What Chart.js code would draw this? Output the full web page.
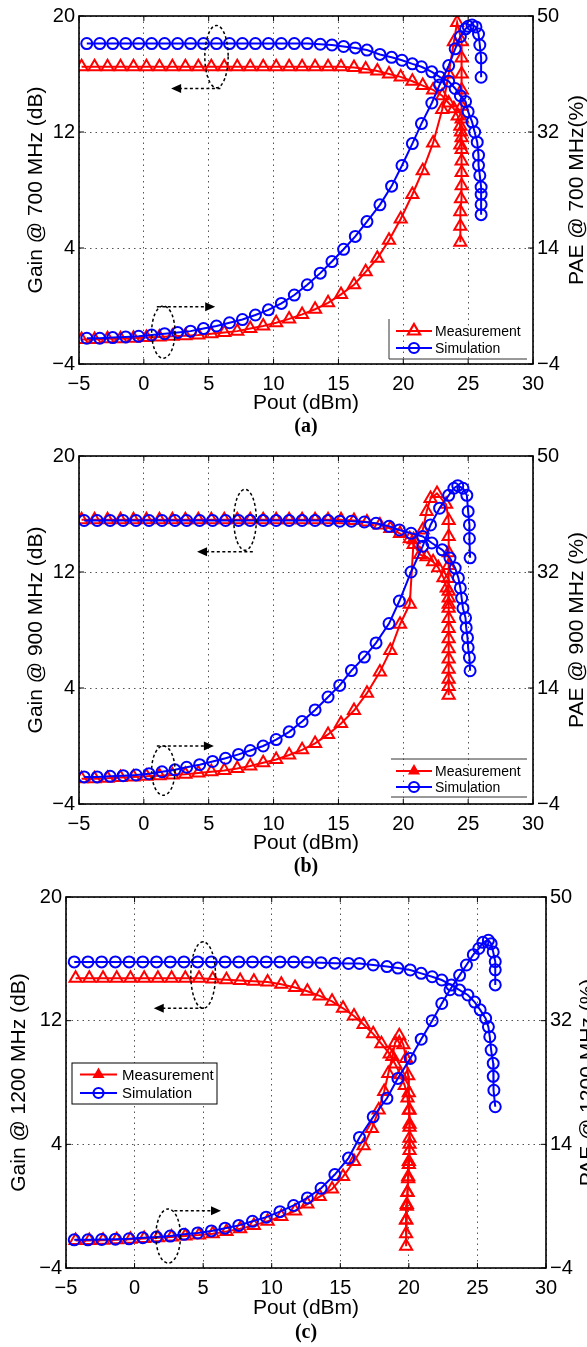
<!DOCTYPE html>
<html><head><meta charset="utf-8">
<script src="https://cdn.jsdelivr.net/npm/chart.js@4.4.1/dist/chart.umd.min.js"></script>
<style>
html,body{margin:0;padding:0;background:#fff;}
body{width:587px;height:1347px;position:relative;overflow:hidden;}
canvas{position:absolute;left:0;}
</style></head><body>
<canvas id="ca" width="587" height="440" style="top:0px"></canvas>
<canvas id="cb" width="587" height="440" style="top:440px"></canvas>
<canvas id="cc" width="587" height="467" style="top:880px"></canvas>
<script>
// ---------- tick labels / text ----------
const xTicks = [-5,0,5,10,15,20,25,30];
const gainTicks = [-4,4,12,20];
const paeTicks = [-4,14,32,50];
const legendLabels = ['Measurement','Simulation'];

// ---------- panel (a) 700 MHz ----------
const simGainX_a = [-4.4,-3.4,-2.4,-1.4,-0.4,0.6,1.6,2.6,3.6,4.6,5.6,6.6,7.6,8.6,9.6,10.6,11.6,12.6,13.6,14.5,15.4,16.3,17.2,18.2,19.1,19.9,20.7,21.4,22.2,22.8,23.5,24.0,24.4,24.8,25.0,25.3,25.5,25.7,25.8,25.8,25.9,26.0,26.0,26.0,26.0];
const simGain_a = [18.1,18.1,18.1,18.1,18.1,18.1,18.1,18.1,18.1,18.1,18.1,18.1,18.1,18.1,18.1,18.1,18.1,18.1,18.05,18.0,17.9,17.8,17.65,17.35,17.15,16.95,16.7,16.5,16.15,15.8,15.5,15.0,14.5,14.1,13.4,12.7,12.0,11.3,10.4,9.7,9.0,8.2,7.7,7.0,6.3];
const simPaeX_a = [-4.4,-3.4,-2.4,-1.4,-0.4,0.6,1.6,2.6,3.6,4.6,5.6,6.6,7.6,8.6,9.6,10.6,11.6,12.6,13.6,14.5,15.4,16.3,17.2,18.2,19.1,19.9,20.7,21.4,22.2,22.8,23.5,24.0,24.4,24.8,25.0,25.3,25.6,25.8,25.9,26.0,26.0];
const simPae_a = [0.0,0.0,0.1,0.2,0.3,0.5,0.7,0.9,1.1,1.5,1.9,2.4,2.9,3.6,4.4,5.4,6.7,8.3,10.1,11.9,13.8,15.8,18.1,20.7,23.6,26.8,30.2,33.3,36.5,39.3,42.3,44.9,46.8,48.0,48.4,48.6,48.3,47.2,45.5,43.5,40.5];
const measGainX_a = [-4.8,-3.8,-2.8,-1.8,-0.8,0.2,1.2,2.2,3.2,4.2,5.2,6.2,7.2,8.2,9.2,10.2,11.2,12.2,13.2,14.2,15.2,16.2,17.1,18.0,18.9,19.8,20.7,21.5,22.3,23.0,23.5,23.9,24.2,24.4,24.5,24.5,24.5,24.5,24.5,24.45,24.4,24.4,24.4];
const measGain_a = [16.5,16.5,16.5,16.5,16.5,16.5,16.5,16.5,16.5,16.5,16.5,16.5,16.5,16.5,16.5,16.5,16.5,16.5,16.5,16.5,16.5,16.45,16.35,16.2,16.0,15.8,15.5,15.2,14.9,14.5,14.0,13.6,13.1,12.4,11.6,10.8,10.0,9.2,8.3,7.4,6.5,5.5,4.4];
const measPaeX_a = [-4.8,-3.8,-2.8,-1.8,-0.8,0.2,1.2,2.2,3.2,4.2,5.2,6.2,7.2,8.2,9.2,10.2,11.2,12.2,13.2,14.2,15.2,16.2,17.1,18.0,18.9,19.8,20.7,21.5,22.3,23.0,23.5,23.9,24.15,24.5,24.5,24.5,24.5,24.5,24.5,24.45,24.4];
const measPae_a = [-0.2,-0.2,-0.1,-0.1,0.0,0.1,0.2,0.3,0.4,0.5,0.7,0.9,1.1,1.5,1.9,2.4,3.0,3.7,4.5,5.5,6.8,8.3,10.3,12.4,15.2,18.5,22.3,26.0,30.3,35.5,41.0,46.0,49.0,46.0,43.5,41.0,38.5,36.0,34.0,32.0,30.0];

// ---------- panel (b) 900 MHz ----------
const simGainX_b = [-4.6,-3.6,-2.6,-1.6,-0.6,0.4,1.4,2.4,3.3,4.3,5.3,6.3,7.3,8.2,9.2,10.2,11.2,12.2,13.2,14.2,15.1,16.0,17.0,17.9,18.9,19.7,20.6,21.5,22.2,23.0,23.6,24.0,24.25,24.4,24.5,24.6,24.8,24.85,24.95,25.0,25.1,25.15];
const simGain_b = [15.55,15.55,15.55,15.55,15.55,15.55,15.55,15.55,15.55,15.55,15.55,15.55,15.55,15.55,15.55,15.55,15.55,15.55,15.55,15.55,15.5,15.5,15.45,15.36,15.15,14.9,14.67,14.45,14.0,13.53,12.96,12.27,11.59,10.9,10.2,9.5,8.84,8.16,7.47,6.79,6.1,5.19];
const simPaeX_b = [-4.6,-3.6,-2.6,-1.6,-0.6,0.4,1.4,2.4,3.3,4.3,5.3,6.3,7.3,8.2,9.2,10.2,11.2,12.2,13.2,14.2,15.1,16.0,17.0,17.9,18.9,19.7,20.6,21.5,22.1,22.8,23.5,23.9,24.2,24.6,24.9,25.0,25.1,25.1,25.15];
const simPae_b = [0.2,0.2,0.3,0.4,0.5,0.7,1.0,1.3,1.7,2.1,2.6,3.1,3.7,4.3,5.0,6.0,7.2,8.8,10.6,12.6,14.4,16.7,18.8,21.0,24.0,27.5,32.0,36.0,39.3,41.9,43.9,45.0,45.4,45.0,43.9,41.4,39.3,37.2,34.2];
const measGainX_b = [-4.8,-3.8,-2.8,-1.8,-0.8,0.2,1.2,2.2,3.2,4.2,5.2,6.2,7.2,8.2,9.2,10.2,11.2,12.2,13.2,14.2,15.2,16.2,17.2,18.2,19.0,19.75,20.5,20.8,21.3,21.8,22.3,22.7,23.1,23.35,23.5,23.5,23.5,23.5,23.5,23.5,23.5,23.5,23.5,23.5,23.5];
const measGain_b = [15.6,15.6,15.6,15.6,15.6,15.6,15.6,15.6,15.6,15.6,15.6,15.6,15.6,15.6,15.6,15.6,15.6,15.6,15.6,15.6,15.6,15.55,15.45,15.25,15.0,14.65,14.3,13.9,13.2,13.05,12.7,12.3,11.6,10.9,10.2,9.5,8.8,8.1,7.4,6.7,6.0,5.3,4.6,4.1,3.5];
const measPaeX_b = [-4.8,-3.8,-2.8,-1.8,-0.8,0.2,1.2,2.2,3.2,4.2,5.2,6.2,7.2,8.2,9.2,10.2,11.2,12.2,13.2,14.2,15.2,16.2,17.2,18.2,19.0,19.75,20.5,20.8,21.5,21.8,22.1,22.6,23.3,23.5,23.5,23.5,23.5,23.5,23.5,23.5];
const measPae_b = [-0.1,-0.1,0.0,0.1,0.2,0.3,0.4,0.5,0.6,0.8,1.0,1.2,1.5,1.9,2.4,2.9,3.6,4.4,5.4,6.8,8.5,10.5,13.2,16.5,19.8,23.9,27.0,37.0,38.5,41.4,43.4,44.2,42.5,40.0,37.5,35.0,33.0,31.0,29.0,27.0];

// ---------- panel (c) 1200 MHz ----------
const simGainX_c = [-4.4,-3.4,-2.4,-1.4,-0.4,0.6,1.6,2.6,3.6,4.6,5.6,6.6,7.6,8.6,9.6,10.6,11.6,12.6,13.6,14.6,15.6,16.4,17.4,18.4,19.2,20.1,20.9,21.7,22.4,23.1,23.7,24.3,24.8,25.2,25.6,25.8,25.9,26.0,26.15,26.15,26.2,26.3];
const simGain_c = [15.8,15.8,15.8,15.8,15.8,15.8,15.8,15.8,15.8,15.8,15.8,15.8,15.8,15.8,15.8,15.8,15.8,15.78,15.75,15.72,15.7,15.7,15.6,15.5,15.4,15.28,15.06,14.84,14.63,14.3,13.98,13.66,13.2,12.7,12.15,11.6,10.96,10.1,9.24,8.4,7.5,6.43];
const simPaeX_c = [-4.4,-3.4,-2.4,-1.4,-0.4,0.6,1.6,2.6,3.6,4.6,5.6,6.6,7.6,8.6,9.6,10.6,11.6,12.6,13.6,14.6,15.6,16.4,17.4,18.4,19.2,20.1,20.9,21.7,22.4,23.0,23.7,24.2,24.7,25.1,25.4,25.8,26.0,26.15,26.3,26.3,26.3];
const simPae_c = [0.1,0.1,0.15,0.2,0.25,0.4,0.5,0.65,0.9,1.1,1.4,1.8,2.2,2.8,3.4,4.2,5.1,6.2,7.6,9.6,12.0,15.0,18.0,20.7,23.6,26.5,29.3,32.0,34.5,36.5,38.6,40.1,41.6,42.5,43.4,43.7,43.2,42.0,40.6,39.4,37.2];
const measGainX_c = [-4.3,-3.3,-2.3,-1.3,-0.3,0.7,1.7,2.7,3.7,4.7,5.7,6.7,7.7,8.7,9.7,10.7,11.7,12.6,13.5,14.4,15.2,16.0,16.7,17.4,18.0,18.6,19.0,19.4,19.7,19.9,20.0,20.05,20.05,20.05,20.0,19.95,19.9,19.85,19.8,19.8];
const measGain_c = [14.75,14.75,14.75,14.75,14.75,14.75,14.75,14.75,14.75,14.75,14.7,14.65,14.6,14.55,14.5,14.35,14.15,13.9,13.6,13.25,12.8,12.3,11.75,11.15,10.5,9.85,9.2,8.5,7.8,7.0,6.2,5.3,4.4,3.6,2.7,1.9,0.9,0.1,-0.9,-2.6];
const measPaeX_c = [-4.3,-3.3,-2.3,-1.3,-0.3,0.7,1.7,2.7,3.7,4.7,5.7,6.7,7.7,8.7,9.7,10.7,11.7,12.6,13.5,14.4,15.2,16.0,16.7,17.3,17.8,18.2,18.5,18.8,19.0,19.3,19.6,19.8,19.95,20.0,20.05,20.05,20.05,20.0,19.95,19.9,19.85,19.8,19.8];
const measPae_c = [0.0,0.0,0.05,0.1,0.2,0.3,0.4,0.5,0.65,0.8,1.0,1.3,1.7,2.2,2.8,3.5,4.3,5.3,6.4,7.5,9.3,11.5,13.8,16.3,19.0,21.7,24.3,26.8,28.8,29.8,28.5,26.5,24.0,21.5,19.0,16.5,14.0,11.5,9.0,7.0,5.0,3.0,1.0];

// ---------- styling / layout ----------
const RED = '#ff0000', BLUE = '#0000ff', GRID = '#555555';
const FAM = "'Liberation Sans', Arial, sans-serif";

const panels = [
  {canvas:'ca', top:0, padTop:14, lw:79, rw:54, xh:76, xpad:8,
   yTitle:'Gain @ 700 MHz (dB)', y2Title:'PAE @ 700 MHz(%)', cap:'(a)',
   ltx:36, rtx:577, xTitleDy:39, capDy:63,
   series:{simGainX:simGainX_a, simGain:simGain_a, simPaeX:simPaeX_a, simPae:simPae_a,
           measGainX:measGainX_a, measGain:measGain_a, measPaeX:measPaeX_a, measPae:measPae_a},
   legend:{type:'L', x1:389, x2:527, y1:319, y2:359, lx1:396, lx2:432, tx:435, ty:[331,348], fs:14},
   ells:[{cx:5.6,cy:17.2,rx:0.9,ry:2.15},{cx:1.5,cy:-1.8,rx:0.9,ry:1.8}],
   arrows:[{x1:5.9,x2:2.1,y:15.0},{x1:1.0,x2:5.5,y:-0.05}]},
  {canvas:'cb', top:440, padTop:14, lw:79, rw:54, xh:76, xpad:8,
   yTitle:'Gain @ 900 MHz (dB)', y2Title:'PAE @ 900 MHz (%)', cap:'(b)',
   ltx:36, rtx:577, xTitleDy:39, capDy:63,
   series:{simGainX:simGainX_b, simGain:simGain_b, simPaeX:simPaeX_b, simPae:simPae_b,
           measGainX:measGainX_b, measGain:measGain_b, measPaeX:measPaeX_b, measPae:measPae_b},
   legend:{type:'H', x1:391, x2:527, y1:759, y2:797, lx1:396, lx2:432, tx:435, ty:[771,787], fs:14, filled:true},
   ells:[{cx:7.8,cy:15.6,rx:0.87,ry:2.1},{cx:1.5,cy:-1.7,rx:0.9,ry:1.7}],
   arrows:[{x1:8.4,x2:4.1,y:13.4},{x1:1.0,x2:5.4,y:0.0}]},
  {canvas:'cc', top:880, padTop:17, lw:66, rw:41, xh:79, xpad:8,
   yTitle:'Gain @ 1200 MHz (dB)', y2Title:'PAE @ 1200 MHz (%)', cap:'(c)',
   ltx:19, rtx:588, xTitleDy:40, capDy:65,
   series:{simGainX:simGainX_c, simGain:simGain_c, simPaeX:simPaeX_c, simPae:simPae_c,
           measGainX:measGainX_c, measGain:measGain_c, measPaeX:measPaeX_c, measPae:measPae_c},
   legend:{type:'box', x1:72, x2:217, y1:1063, y2:1104, lx1:80, lx2:117, tx:122, ty:[1074.5,1093], fs:15, filled:true},
   ells:[{cx:5.0,cy:14.95,rx:0.9,ry:2.15},{cx:2.45,cy:-1.93,rx:0.9,ry:1.75}],
   arrows:[{x1:5.05,x2:1.4,y:12.8},{x1:2.9,x2:6.3,y:-0.29}]}
];
const byId = {};
panels.forEach(p => byId[p.canvas] = p);

function seg(ctx, x1, y1, x2, y2){ ctx.beginPath(); ctx.moveTo(x1,y1); ctx.lineTo(x2,y2); ctx.stroke(); }
function tri(ctx, x, y, r){ ctx.beginPath(); ctx.moveTo(x, y - r); ctx.lineTo(x + r*0.866, y + r/2); ctx.lineTo(x - r*0.866, y + r/2); ctx.closePath(); }

const decor = {
  id:'decor',
  afterDraw(chart){
    const p = byId[chart.canvas.id];
    const ctx = chart.ctx, ca = chart.chartArea;
    const xs = chart.scales.x, ys = chart.scales.y, y2 = chart.scales.y2;
    const off = p.top;
    ctx.save();
    // frame
    ctx.setLineDash([]);
    ctx.strokeStyle = '#000'; ctx.lineWidth = 1.6;
    ctx.strokeRect(ca.left, ca.top, ca.right - ca.left, ca.bottom - ca.top);
    ctx.lineWidth = 1;
    xTicks.forEach(v => { const X = xs.getPixelForValue(v); seg(ctx, X, ca.bottom, X, ca.bottom - 5); seg(ctx, X, ca.top, X, ca.top + 5); });
    gainTicks.forEach(v => { const Y = ys.getPixelForValue(v); seg(ctx, ca.left, Y, ca.left + 5, Y); });
    paeTicks.forEach(v => { const Y = y2.getPixelForValue(v); seg(ctx, ca.right, Y, ca.right - 5, Y); });
    // dashed ellipses
    ctx.strokeStyle = '#000'; ctx.lineWidth = 1.5; ctx.setLineDash([3,2.5]);
    p.ells.forEach(e => {
      const cx = xs.getPixelForValue(e.cx), cy = ys.getPixelForValue(e.cy);
      const rx = Math.abs(xs.getPixelForValue(e.cx + e.rx) - cx), ry = Math.abs(ys.getPixelForValue(e.cy + e.ry) - cy);
      ctx.beginPath(); ctx.ellipse(cx, cy, rx, ry, 0, 0, Math.PI*2); ctx.stroke();
    });
    // dashed arrows
    p.arrows.forEach(a => {
      const X1 = xs.getPixelForValue(a.x1), X2 = xs.getPixelForValue(a.x2), Y = ys.getPixelForValue(a.y);
      const dir = X2 > X1 ? 1 : -1;
      ctx.setLineDash([3,2.5]);
      seg(ctx, X1, Y, X2 - dir*8, Y);
      ctx.setLineDash([]);
      ctx.fillStyle = '#000';
      ctx.beginPath(); ctx.moveTo(X2, Y); ctx.lineTo(X2 - dir*10, Y - 4.5); ctx.lineTo(X2 - dir*10, Y + 4.5); ctx.closePath(); ctx.fill();
    });
    ctx.setLineDash([]);
    // legend
    const L = p.legend;
    const ly1 = L.y1 - off, ly2 = L.y2 - off;
    ctx.strokeStyle = '#000'; ctx.lineWidth = 1;
    if (L.type === 'box') {
      ctx.fillStyle = '#fff'; ctx.fillRect(L.x1, ly1, L.x2 - L.x1, ly2 - ly1);
      ctx.strokeRect(L.x1, ly1, L.x2 - L.x1, ly2 - ly1);
    } else if (L.type === 'L') {
      ctx.strokeStyle = '#333';
      seg(ctx, L.x1, ly1, L.x1, ly2); seg(ctx, L.x1, ly2, L.x2, ly2);
    } else {
      ctx.strokeStyle = '#333';
      seg(ctx, L.x1, ly1, L.x2, ly1); seg(ctx, L.x1, ly2, L.x2, ly2);
    }
    const cols = [RED, BLUE];
    legendLabels.forEach((lab, i) => {
      const yy = L.ty[i] - off, mx = (L.lx1 + L.lx2)/2;
      ctx.strokeStyle = cols[i]; ctx.lineWidth = 2.2;
      seg(ctx, L.lx1, yy, L.lx2, yy);
      if (i === 0) {
        tri(ctx, mx, yy, 7);
        if (L.filled) { ctx.fillStyle = RED; ctx.fill(); } else { ctx.stroke(); }
      } else {
        ctx.beginPath(); ctx.arc(mx, yy, 5, 0, Math.PI*2); ctx.stroke();
      }
      ctx.fillStyle = '#000'; ctx.font = L.fs + 'px ' + FAM;
      ctx.textAlign = 'left'; ctx.textBaseline = 'middle';
      ctx.fillText(lab, L.tx, yy + 1);
    });
    // titles
    const cy = (ca.top + ca.bottom)/2, cx = (ca.left + ca.right)/2;
    ctx.fillStyle = '#000'; ctx.font = '21px ' + FAM; ctx.textAlign = 'center'; ctx.textBaseline = 'middle';
    ctx.fillText('Pout (dBm)', cx, ca.bottom + p.xTitleDy);
    [[p.ltx, p.yTitle], [p.rtx, p.y2Title]].forEach(([tx, t]) => {
      ctx.save(); ctx.translate(tx, cy); ctx.rotate(-Math.PI/2); ctx.fillText(t, 0, 0); ctx.restore();
    });
    ctx.font = 'bold 20px "Liberation Serif", "Times New Roman", serif';
    ctx.fillText(p.cap, cx, ca.bottom + p.capDy);
    ctx.restore();
  }
};

const fmt = v => (v < 0 ? '\u2212' + Math.abs(v) : String(v));

function mk(p){
  const s = p.series;
  const ds = (xs, ys, axis, color, style, r) => ({
    data: xs.map((x, i) => ({x: x, y: ys[i]})), yAxisID: axis,
    borderColor: color, backgroundColor: 'rgba(0,0,0,0)', borderWidth: 2, tension: 0, fill: false,
    pointStyle: style, pointRadius: r, pointHoverRadius: r, pointBorderWidth: 2,
    pointBorderColor: color, pointBackgroundColor: 'rgba(0,0,0,0)'
  });
  return new Chart(document.getElementById(p.canvas), {
    type: 'line',
    data: {datasets: [
      ds(s.simGainX, s.simGain, 'y', BLUE, 'circle', 5.5),
      ds(s.simPaeX, s.simPae, 'y2', BLUE, 'circle', 5.5),
      ds(s.measGainX, s.measGain, 'y', RED, 'triangle', 7),
      ds(s.measPaeX, s.measPae, 'y2', RED, 'triangle', 7)
    ]},
    options: {
      responsive: false, animation: false, devicePixelRatio: 1,
      layout: {padding: {top: p.padTop, left: 0, right: 0, bottom: 0}},
      plugins: {legend: {display: false}, tooltip: {enabled: false}},
      scales: {
        x: {type: 'linear', min: -5, max: 30,
            afterBuildTicks: sc => { sc.ticks = xTicks.map(v => ({value: v})); },
            afterFit: sc => { sc.height = p.xh; },
            grid: {color: GRID, lineWidth: 1, drawTicks: false},
            border: {display: false, dash: [1.5, 4]},
            ticks: {padding: p.xpad, color: '#000', font: {family: FAM, size: 20}, maxRotation: 0, autoSkip: false, callback: fmt}},
        y: {type: 'linear', position: 'left', min: -4, max: 20,
            afterBuildTicks: sc => { sc.ticks = gainTicks.map(v => ({value: v})); },
            afterFit: sc => { sc.width = p.lw; },
            grid: {color: GRID, lineWidth: 1, drawTicks: false},
            border: {display: false, dash: [1.5, 4]},
            ticks: {padding: 4, color: '#000', font: {family: FAM, size: 20}, callback: fmt}},
        y2: {type: 'linear', position: 'right', min: -4, max: 50,
            afterBuildTicks: sc => { sc.ticks = paeTicks.map(v => ({value: v})); },
            afterFit: sc => { sc.width = p.rw; },
            grid: {drawOnChartArea: false, drawTicks: false},
            border: {display: false},
            ticks: {padding: 4, color: '#000', font: {family: FAM, size: 20}, callback: fmt}}
      }
    },
    plugins: [decor]
  });
}
panels.forEach(mk);
</script>
</body></html>
